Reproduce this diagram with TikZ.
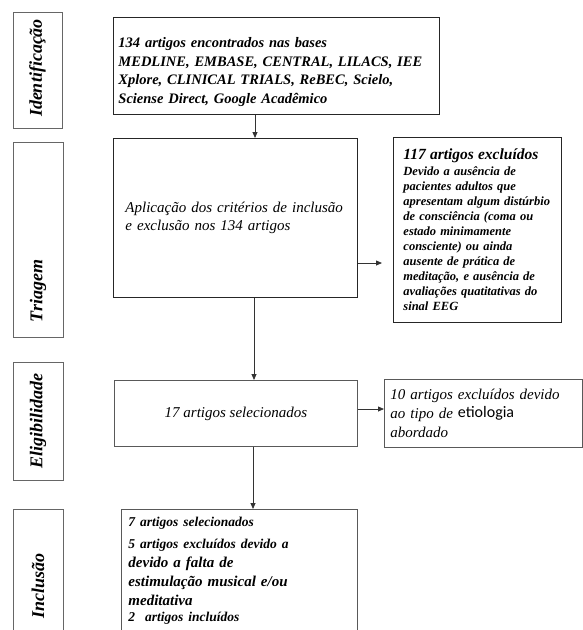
\documentclass[tikz,border=0pt]{standalone}
\usepackage{fontspec}
\setmainfont{Liberation Serif}[
  BoldFont={Liberation Serif Bold},
  ItalicFont={Liberation Serif Italic},
  BoldItalicFont={Liberation Serif Bold Italic}]
\newfontfamily\etiofont{Carlito}
\usetikzlibrary{positioning,arrows.meta}

\tikzset{
  caixa/.style={draw=black!85, line width=0.9pt, rectangle, anchor=north west, inner sep=0pt, align=left},
  caixacinza/.style={caixa, draw=black!65},
  fase/.style={draw=black!60, line width=0.9pt, rectangle, anchor=north west, inner sep=0pt, minimum width=50pt},
  rotulo/.style={rotate=90, inner sep=0pt, font=\fontsize{18}{20}\selectfont\bfseries\itshape},
  seta/.style={->, draw=black!80, line width=0.8pt},
}

\begin{document}
\begin{tikzpicture}[x=1pt, y=-1pt, >={Triangle[length=6pt,width=5pt]}]
  \useasboundingbox[fill=white] (0,0) rectangle (583,630);
  \clip (0,0) rectangle (583,630);

  % fases
  \node (F1) [fase, minimum width=49pt, minimum height=116pt] at (13,12) {};
  \node (F2) [fase, minimum height=195pt] at (13,142) {};
  \node (F3) [fase, minimum height=118pt] at (13,362) {};
  \node (F4) [fase, minimum height=170pt] at (13,509) {};
  \node (L1) [rotulo] at (37.5,68) {Identificação};
  \node (L2) [rotulo] at (38,291) {Triagem};
  \node (L3) [rotulo] at (38,421) {Eligibilidade};
  \node (L4) [rotulo] at (38,586) {Inclusão};

  % caixas
  \node (B1) [caixa, text width=316pt, minimum height=97pt, inner xsep=5pt,
    font=\fontsize{14.5}{18.5}\selectfont\bfseries\itshape] at (113,17)
    {134 artigos encontrados nas bases\rule{0pt}{22pt}\\
     MEDLINE, EMBASE, CENTRAL, LILACS, IEE\\
     Xplore, CLINICAL TRIALS, ReBEC, Scielo,\\
     Sciense Direct, Google Acadêmico};
  \node (B2) [caixa, minimum width=244pt, minimum height=159pt, text width=220pt,
    font=\fontsize{15}{18.5}\selectfont\itshape] at (113,138)
    {Aplicação dos critérios de inclusão\\
     e exclusão nos 134 artigos};
  \node (B3) [caixa, minimum width=168pt, minimum height=185pt, text width=148pt,
    font=\fontsize{12.5}{15}\selectfont\bfseries\itshape] at (393,137)
    {{\fontsize{15.5}{17}\selectfont 117 artigos excluídos}\\[1pt]
     Devido a ausência de\\
     pacientes adultos que\\
     apresentam algum distúrbio\\
     de consciência (coma ou\\
     estado minimamente\\
     consciente) ou ainda\\
     ausente de prática de\\
     meditação, e ausência de\\
     avaliações quatitativas do\\
     sinal EEG};
  \node (B4) [caixacinza, minimum width=243pt, minimum height=66pt, align=center,
    font=\fontsize{15}{18}\selectfont\itshape] at (114,380)
    {17 artigos selecionados};
  \node (B5) [caixacinza, minimum width=198pt, minimum height=68pt, text width=186pt,
    font=\fontsize{15}{19}\selectfont\itshape] at (384,379)
    {10 artigos excluídos devido\\
     ao tipo de \raisebox{1.5pt}{\etiofont\upshape\fontsize{16}{19}\selectfont etiologia}\\
     abordado};
  \node (B6) [caixacinza, minimum width=236pt, text width=222pt, inner ysep=8pt,
    font=\fontsize{15}{19}\selectfont\bfseries\itshape] at (121,509)
    {{\fontsize{13.5}{19}\selectfont 7 artigos selecionados}\\[3pt]
     {\fontsize{13.5}{19}\selectfont 5 artigos excluídos devido a}\\
     devido a falta de\\
     estimulação musical e/ou\\
     meditativa\\[-3pt]
     {\fontsize{13.5}{19}\selectfont 2\ \ artigos incluídos}\rule[-30pt]{0pt}{0pt}};

  % ligacoes
  \coordinate (X1) at (255,0);
  \coordinate (X2) at (254,0);
  \coordinate (X3) at (253,0);
  \coordinate (Y1) at (0,263);
  \coordinate (Y2) at (0,409);
  \draw[seta] (B1.south -| X1) to (B2.north -| X1);
  \draw[seta, shorten >=11pt] (B2.east |- Y1) to (B3.west |- Y1);
  \draw[seta] (B2.south -| X2) to (B4.north -| X2);
  \draw[seta] (B4.east |- Y2) to (B5.west |- Y2);
  \draw[seta] (B4.south -| X3) to (B6.north -| X3);
\end{tikzpicture}
\end{document}
